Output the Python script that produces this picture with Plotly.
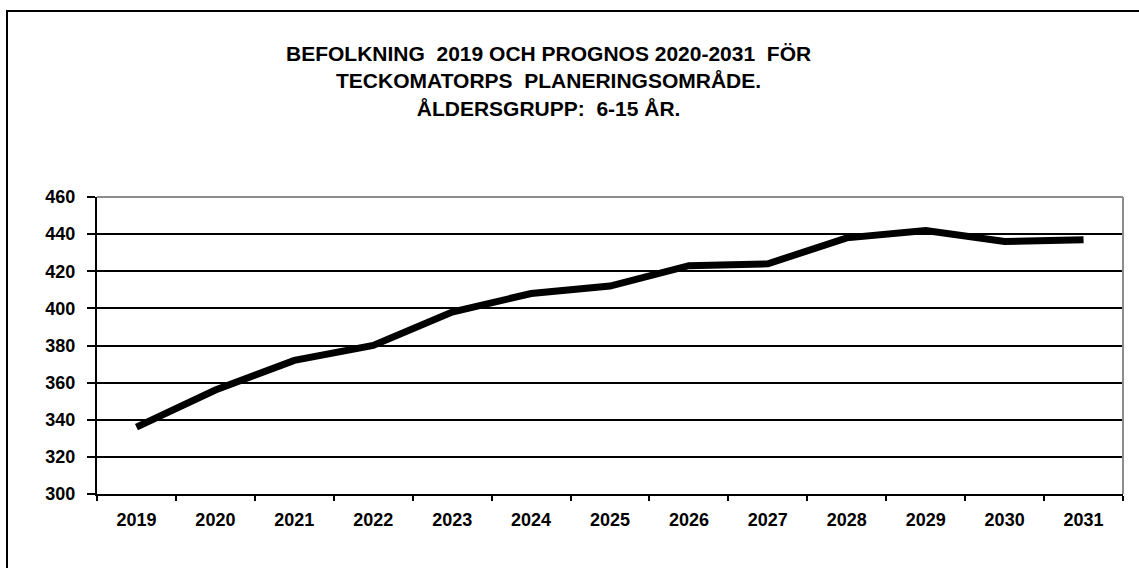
import plotly.graph_objects as go

years = ["2019", "2020", "2021", "2022", "2023", "2024", "2025", "2026", "2027", "2028", "2029", "2030", "2031"]
population = [336, 356, 372, 380, 398, 408, 412, 423, 424, 438, 442, 436, 437]
y_ticks = [300, 320, 340, 360, 380, 400, 420, 440, 460]

title_text = ("BEFOLKNING  2019 OCH PROGNOS 2020-2031  FÖR<br>"
              "TECKOMATORPS  PLANERINGSOMRÅDE.<br>"
              "ÅLDERSGRUPP:  6-15 ÅR.")

# body margin is removed by post_script, so figure coords = page coords
W, H = 1139, 568
L, T = 97, 197
R = W - 1123
B = H - 494
pw, ph = W - L - R, H - T - B

def px_x(p):
    return (p - L) / pw

def px_y(p):
    return (H - B - p) / ph

font_family = "Liberation Sans, Arial, sans-serif"

fig = go.Figure()
fig.add_trace(go.Scatter(
    x=years, y=population, mode="lines",
    line=dict(color="black", width=7),
    hoverinfo="x+y", showlegend=False,
))

fig.update_layout(
    width=W, height=H,
    margin=dict(l=L, r=R, t=T, b=B),
    paper_bgcolor="white", plot_bgcolor="white",
    font=dict(family=font_family, color="black"),
    annotations=[dict(
        text="<b>" + title_text + "</b>",
        xref="paper", yref="paper",
        x=px_x(548), y=px_y(40),
        xanchor="center", yanchor="top",
        showarrow=False, align="center",
        font=dict(size=21, family=font_family, color="black"),
    )],
    shapes=[
        # outer chart border (extends past the window on right/bottom)
        dict(type="rect", xref="paper", yref="paper",
             x0=px_x(7), x1=px_x(1160), y0=px_y(590), y1=px_y(11),
             line=dict(color="black", width=2), layer="above"),
        # top/right plot-area border in gray
        dict(type="line", xref="paper", yref="paper",
             x0=0, x1=1, y0=1, y1=1, line=dict(color="#8c8c8c", width=2), layer="above"),
        dict(type="line", xref="paper", yref="paper",
             x0=1, x1=1, y0=0, y1=1, line=dict(color="#8c8c8c", width=2), layer="above"),
    ],
)

fig.update_xaxes(
    type="category", tickson="boundaries",
    ticks="outside", ticklen=5, tickwidth=1.5, tickcolor="black",
    showline=True, linecolor="black", linewidth=2,
    showgrid=False, zeroline=False,
    tickfont=dict(size=18, family=font_family, color="black", weight="bold"),
    ticklabelstandoff=8,
    range=[-0.5, len(years) - 0.5],
)
fig.update_yaxes(
    range=[300, 460], tickvals=y_ticks,
    ticks="outside", ticklen=8, tickwidth=1.5, tickcolor="black",
    showline=True, linecolor="black", linewidth=2,
    showgrid=True, gridcolor="black", gridwidth=1.5,
    zeroline=False,
    tickfont=dict(size=18, family=font_family, color="black", weight="bold"),
    ticklabelstandoff=8,
)

fig.write_html(
    "out.html",
    config={"displayModeBar": False},
    post_script="document.body.style.margin='0';document.body.style.overflow='hidden';",
)
